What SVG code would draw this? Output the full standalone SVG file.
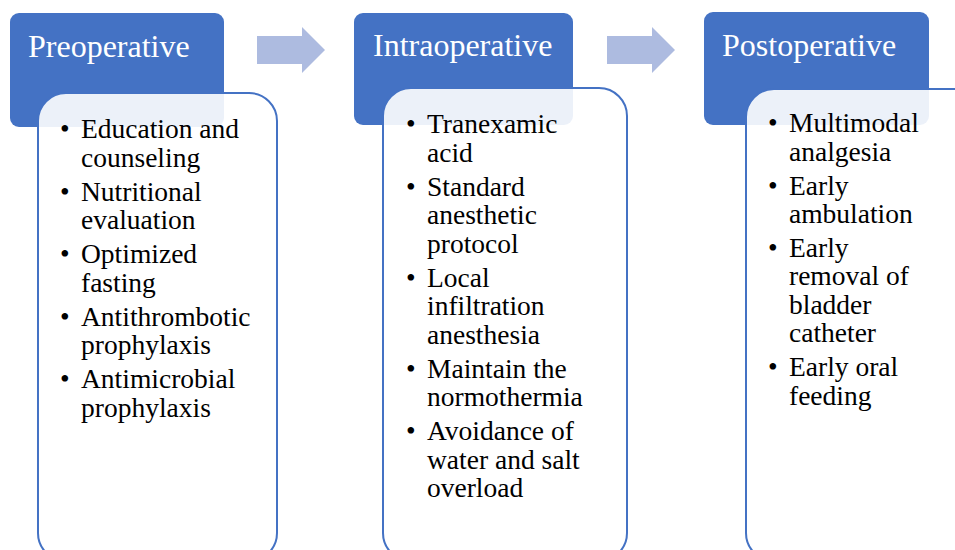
<svg xmlns="http://www.w3.org/2000/svg" width="955" height="550" viewBox="0 0 955 550">
<style>
.hdr{fill:#4472C4;}
.card{fill:#ffffff;fill-opacity:0.9;stroke:#4472C4;stroke-width:2;}
.ht{font-family:"Liberation Serif","Times New Roman",serif;font-size:32px;fill:#ffffff;}
.bt{font-family:"Liberation Serif","Times New Roman",serif;font-size:27.5px;fill:#000000;}
.arr{fill:#ADBBE0;}
</style>
<rect width="955" height="550" fill="#ffffff"/>
<g id="connectors">
<polygon class="arr" points="257,36 302,36 302,27 325,50 302,73 302,64 257,64"/>
<polygon class="arr" points="607,36 652,36 652,27 675,50 652,73 652,64 607,64"/>
</g>
<g id="preoperative">
<rect class="hdr" x="10" y="13" width="214" height="114" rx="9"/>
<text class="ht" x="28" y="57">Preoperative</text>
<rect class="card" x="38" y="93" width="239" height="468" rx="28"/>
<text class="bt">
<tspan x="60" y="138">•</tspan><tspan x="81" y="138">Education and</tspan>
<tspan x="81" y="166.5">counseling</tspan>
<tspan x="60" y="200.5">•</tspan><tspan x="81" y="200.5">Nutritional</tspan>
<tspan x="81" y="229">evaluation</tspan>
<tspan x="60" y="263">•</tspan><tspan x="81" y="263">Optimized</tspan>
<tspan x="81" y="291.5">fasting</tspan>
<tspan x="60" y="325.5">•</tspan><tspan x="81" y="325.5">Antithrombotic</tspan>
<tspan x="81" y="354">prophylaxis</tspan>
<tspan x="60" y="388">•</tspan><tspan x="81" y="388">Antimicrobial</tspan>
<tspan x="81" y="416.5">prophylaxis</tspan>
</text>
</g>
<g id="intraoperative">
<rect class="hdr" x="354" y="13" width="219" height="112" rx="9"/>
<text class="ht" x="373" y="56">Intraoperative</text>
<rect class="card" x="383" y="88" width="244" height="473" rx="28"/>
<text class="bt">
<tspan x="406" y="133">•</tspan><tspan x="427" y="133">Tranexamic</tspan>
<tspan x="427" y="161.5">acid</tspan>
<tspan x="406" y="195.5">•</tspan><tspan x="427" y="195.5">Standard</tspan>
<tspan x="427" y="224">anesthetic</tspan>
<tspan x="427" y="252.5">protocol</tspan>
<tspan x="406" y="286.5">•</tspan><tspan x="427" y="286.5">Local</tspan>
<tspan x="427" y="315">infiltration</tspan>
<tspan x="427" y="343.5">anesthesia</tspan>
<tspan x="406" y="377.5">•</tspan><tspan x="427" y="377.5">Maintain the</tspan>
<tspan x="427" y="406">normothermia</tspan>
<tspan x="406" y="440">•</tspan><tspan x="427" y="440">Avoidance of</tspan>
<tspan x="427" y="468.5">water and salt</tspan>
<tspan x="427" y="497">overload</tspan>
</text>
</g>
<g id="postoperative">
<rect class="hdr" x="704" y="12" width="225" height="113" rx="9"/>
<text class="ht" x="722" y="56">Postoperative</text>
<rect class="card" x="746" y="89" width="240" height="472" rx="28"/>
<text class="bt">
<tspan x="768" y="132">•</tspan><tspan x="789" y="132">Multimodal</tspan>
<tspan x="789" y="160.5">analgesia</tspan>
<tspan x="768" y="194.5">•</tspan><tspan x="789" y="194.5">Early</tspan>
<tspan x="789" y="223">ambulation</tspan>
<tspan x="768" y="256.5">•</tspan><tspan x="789" y="256.5">Early</tspan>
<tspan x="789" y="285">removal of</tspan>
<tspan x="789" y="313.5">bladder</tspan>
<tspan x="789" y="342">catheter</tspan>
<tspan x="768" y="376">•</tspan><tspan x="789" y="376">Early oral</tspan>
<tspan x="789" y="404.5">feeding</tspan>
</text>
</g>
</svg>
